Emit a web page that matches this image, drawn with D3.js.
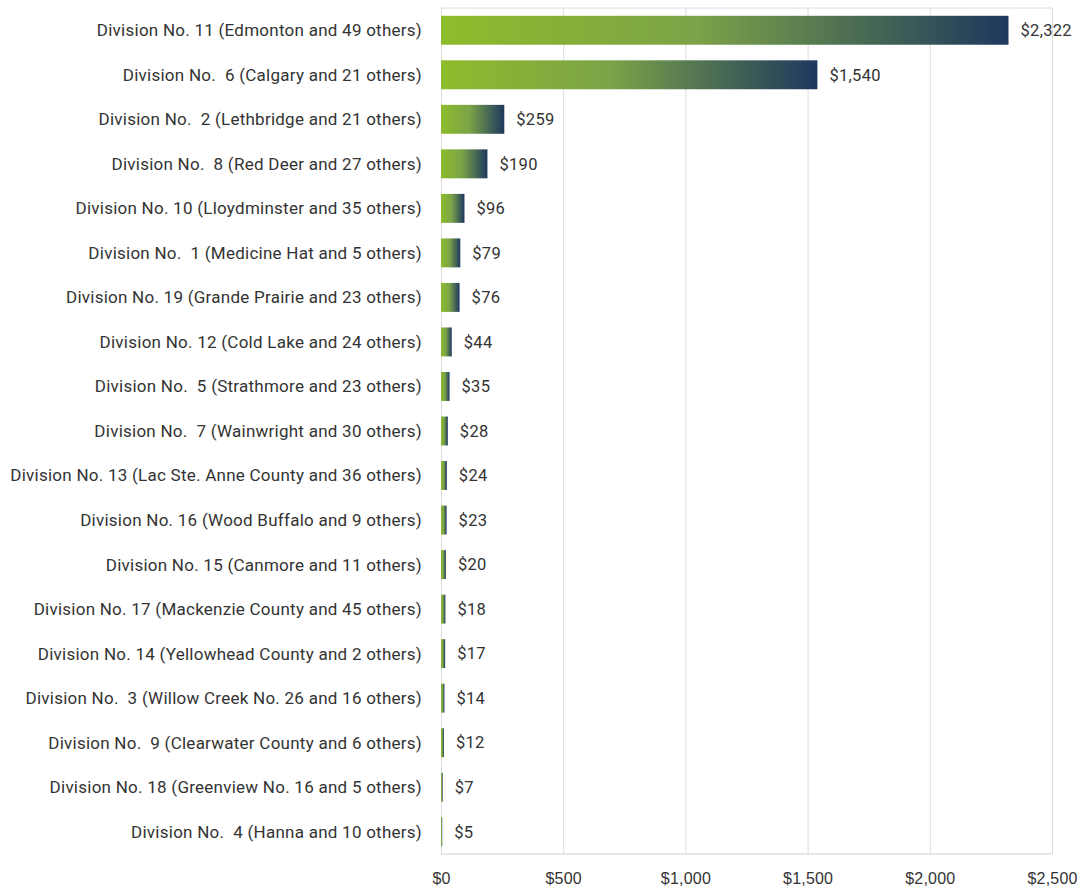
<!DOCTYPE html>
<html>
<head>
    <meta charset="utf-8">
    <title>Alberta census divisions</title>
    <script src="https://d3js.org/d3.v7.min.js"></script>
    <style>
        body { margin: 0; background: #fff; }
        svg { font-family: Roboto, "Noto Sans", sans-serif; }
        .label { font-size: 17px; fill: #333; white-space: pre; letter-spacing: 0.25px; }
        .value { font-size: 16.5px; fill: #333; letter-spacing: 0.3px; }
        .tick text { font-size: 16px; fill: #333; letter-spacing: 0.2px; }
        .grid line { stroke: #dcdcdc; }
        .grid path { display: none; }
    </style>
</head>
<body>
    <svg width="1082" height="890"></svg>
    <script>
        const divisions = [
            "Division No. 11 (Edmonton and 49 others)",
            "Division No.  6 (Calgary and 21 others)",
            "Division No.  2 (Lethbridge and 21 others)",
            "Division No.  8 (Red Deer and 27 others)",
            "Division No. 10 (Lloydminster and 35 others)",
            "Division No.  1 (Medicine Hat and 5 others)",
            "Division No. 19 (Grande Prairie and 23 others)",
            "Division No. 12 (Cold Lake and 24 others)",
            "Division No.  5 (Strathmore and 23 others)",
            "Division No.  7 (Wainwright and 30 others)",
            "Division No. 13 (Lac Ste. Anne County and 36 others)",
            "Division No. 16 (Wood Buffalo and 9 others)",
            "Division No. 15 (Canmore and 11 others)",
            "Division No. 17 (Mackenzie County and 45 others)",
            "Division No. 14 (Yellowhead County and 2 others)",
            "Division No.  3 (Willow Creek No. 26 and 16 others)",
            "Division No.  9 (Clearwater County and 6 others)",
            "Division No. 18 (Greenview No. 16 and 5 others)",
            "Division No.  4 (Hanna and 10 others)"
        ];
        const values = [2322, 1540, 259, 190, 96, 79, 76, 44, 35, 28, 24, 23, 20, 18, 17, 14, 12, 7, 5];
        const xTicks = [0, 500, 1000, 1500, 2000, 2500];

        const plotLeft = 441, plotRight = 1052, plotTop = 8, plotBottom = 854;

        const svg = d3.select("svg");

        const x = d3.scaleLinear().domain([0, 2500]).range([plotLeft, plotRight]);
        const y = d3.scaleBand().domain(divisions).range([plotTop, plotBottom]).paddingInner(0.35).paddingOuter(0.175);

        const grad = svg.append("defs").append("linearGradient")
            .attr("id", "barGrad")
            .attr("x1", "0").attr("x2", "1").attr("y1", "0").attr("y2", "0");
        grad.append("stop").attr("offset", "0%").attr("stop-color", "#8dbc2b");
        grad.append("stop").attr("offset", "45%").attr("stop-color", "#7ba348");
        grad.append("stop").attr("offset", "100%").attr("stop-color", "#1d385e");

        // vertical grid
        svg.append("g")
            .attr("class", "grid")
            .attr("transform", `translate(0,${plotBottom})`)
            .call(d3.axisBottom(x).tickValues(xTicks).tickSize(-(plotBottom - plotTop)).tickFormat(""));

        // frame top and bottom
        svg.append("line").attr("x1", plotLeft).attr("x2", plotRight).attr("y1", plotTop).attr("y2", plotTop).attr("stroke", "#dcdcdc");
        svg.append("line").attr("x1", plotLeft).attr("x2", plotRight).attr("y1", plotBottom).attr("y2", plotBottom).attr("stroke", "#cfcfcf");

        // tick labels
        const axis = svg.append("g")
            .attr("transform", `translate(0,${plotBottom})`)
            .call(d3.axisBottom(x).tickValues(xTicks).tickSize(0).tickPadding(19)
                .tickFormat(d => "$" + d3.format(",")(d)));
        axis.select(".domain").remove();

        svg.selectAll(".bar")
            .data(values)
            .enter().append("rect")
            .attr("class", "bar")
            .attr("x", x(0))
            .attr("y", (d, i) => y(divisions[i]))
            .attr("width", d => x(d) - x(0))
            .attr("height", y.bandwidth())
            .attr("fill", "url(#barGrad)");

        svg.selectAll(".label")
            .data(divisions)
            .enter().append("text")
            .attr("class", "label")
            .attr("x", plotLeft - 19)
            .attr("y", d => y(d) + y.bandwidth() / 2)
            .attr("dy", "0.35em")
            .attr("text-anchor", "end")
            .text(d => d);

        svg.selectAll(".value")
            .data(values)
            .enter().append("text")
            .attr("class", "value")
            .attr("x", d => x(d) + 12)
            .attr("y", (d, i) => y(divisions[i]) + y.bandwidth() / 2)
            .attr("dy", "0.35em")
            .text(d => "$" + d3.format(",")(d));
    </script>
</body>
</html>
